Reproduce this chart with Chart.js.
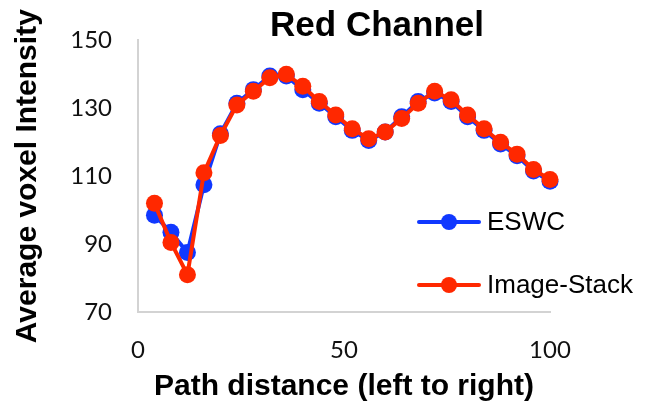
<!DOCTYPE html>
<html>
<head>
<meta charset="utf-8">
<script src="https://cdn.jsdelivr.net/npm/chart.js@4/dist/chart.umd.min.js"></script>
<style>
  html, body { margin: 0; padding: 0; background: #fff; }
  #wrap { width: 655px; height: 409px; }
</style>
</head>
<body>
<div id="wrap"><canvas id="redChannelChart"></canvas></div>
<script>
// path distance positions
const pathDistance = [4, 8, 12, 16, 20, 24, 28, 32, 36, 40, 44, 48, 52, 56, 60, 64, 68, 72, 76, 80, 84, 88, 92, 96, 100];
// average voxel intensity, per source
const eswcValues = [98.5, 93.5, 87.5, 107.5, 122.5, 131.5, 135.5, 139.5, 139.5, 135.5, 131.5, 127.5, 123.5, 120.5, 123, 127.5, 132, 134.5, 132, 127.5, 123.5, 119.5, 116, 111.5, 108.5];
const imageStackValues = [102, 90.5, 81, 111, 122, 131, 135, 139, 140, 136.5, 132, 128, 124, 121, 123, 127, 131.5, 135, 132.5, 128, 124, 120, 116.5, 112, 109];
const xTicks = [0, 50, 100];
const yTicks = [70, 90, 110, 130, 150];

const BLUE = '#1038ff';
const RED = '#ff2800';

function toPoints(xs, ys) {
  return xs.map((x, i) => ({ x: x, y: ys[i] }));
}

// title + legend drawn by hand (the original sits off-centre and inside the plot)
const extras = {
  id: 'extras',
  afterDraw(chart) {
    const ctx = chart.ctx;
    ctx.save();
    ctx.fillStyle = '#000';
    ctx.font = 'bold 35px "Liberation Sans", Arial, sans-serif';
    ctx.textAlign = 'center';
    ctx.textBaseline = 'middle';
    ctx.fillText('Red Channel', 377, 26);

    const items = [[chart.data.datasets[1], 222], [chart.data.datasets[0], 285]];
    items.forEach(([ds, y]) => {
      ctx.strokeStyle = ds.borderColor;
      ctx.lineWidth = 4;
      ctx.lineCap = 'round';
      ctx.beginPath();
      ctx.moveTo(419, y);
      ctx.lineTo(479, y);
      ctx.stroke();
      ctx.fillStyle = ds.pointBackgroundColor;
      ctx.beginPath();
      ctx.arc(449, y, 8, 0, Math.PI * 2);
      ctx.fill();
      ctx.fillStyle = '#000';
      ctx.font = '26px "Liberation Sans", Arial, sans-serif';
      ctx.textAlign = 'left';
      ctx.fillText(ds.label, 487, y + 1);
    });
    ctx.restore();
  }
};

const ctx = document.getElementById('redChannelChart').getContext('2d');
new Chart(ctx, {
  type: 'line',
  data: {
    datasets: [{
      label: 'Image-Stack',
      data: toPoints(pathDistance, imageStackValues),
      borderColor: RED,
      backgroundColor: RED,
      pointBackgroundColor: RED,
      pointBorderWidth: 0,
      pointRadius: 8.5,
      borderWidth: 4,
      tension: 0,
      clip: false,
      order: 1
    }, {
      label: 'ESWC',
      data: toPoints(pathDistance, eswcValues),
      borderColor: BLUE,
      backgroundColor: BLUE,
      pointBackgroundColor: BLUE,
      pointBorderWidth: 0,
      pointRadius: 8.5,
      borderWidth: 4,
      tension: 0,
      clip: false,
      order: 2
    }]
  },
  options: {
    responsive: true,
    maintainAspectRatio: false,
    animation: false,
    layout: { padding: { top: 36, right: 105, left: 0, bottom: 0 } },
    plugins: {
      legend: { display: false },
      title: { display: false },
      tooltip: { enabled: false }
    },
    scales: {
      x: {
        type: 'linear',
        min: 0,
        max: 100,
        afterFit: (s) => { s.height = 97; },
        afterBuildTicks: (s) => { s.ticks = xTicks.map(v => ({ value: v })); },
        grid: { drawTicks: false, color: 'rgba(0,0,0,0)' },
        border: { color: '#d3d3d3', width: 2 },
        ticks: {
          padding: 24,
          color: '#111',
          font: { family: 'Lato, "Open Sans", sans-serif', size: 24 },
          maxRotation: 0
        },
        title: {
          display: true,
          text: 'Path distance (left to right)',
          color: '#000',
          font: { family: '"Liberation Sans", Arial, sans-serif', size: 30, weight: 'bold', lineHeight: 1.2 },
          padding: { top: 0, bottom: 4 }
        }
      },
      y: {
        min: 70,
        max: 150,
        afterFit: (s) => { s.width = 138; },
        afterBuildTicks: (s) => { s.ticks = yTicks.map(v => ({ value: v })); },
        grid: { drawTicks: false, color: 'rgba(0,0,0,0)' },
        border: { color: '#d3d3d3', width: 2 },
        ticks: {
          padding: 26,
          color: '#111',
          font: { family: 'Lato, "Open Sans", sans-serif', size: 24 }
        },
        title: {
          display: true,
          text: 'Average voxel Intensity',
          color: '#000',
          font: { family: '"Liberation Sans", Arial, sans-serif', size: 30, weight: 'bold', lineHeight: 1.2 },
          padding: { top: 10, bottom: 0 }
        }
      }
    }
  },
  plugins: [extras]
});
</script>
</body>
</html>
